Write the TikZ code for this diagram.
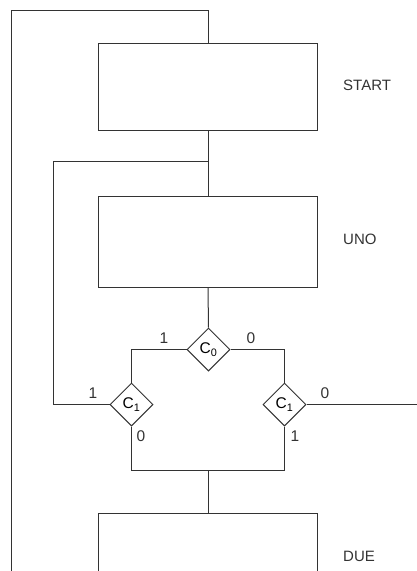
\documentclass[tikz,border=0pt]{standalone}
\usepackage{fontspec}
\setmainfont{Liberation Sans}
\usetikzlibrary{shapes.geometric}
\begin{document}
\begin{tikzpicture}[x=1pt,y=-1pt,
  ln/.style={draw=black!80,line width=1pt},
  blk/.style={ln,fill=white,minimum width=219pt,minimum height=87pt,inner sep=0pt,anchor=north west},
  dec/.style={ln,diamond,minimum width=43pt,minimum height=43pt,inner sep=0pt,fill=white,font=\fontsize{15.5}{17}\selectfont},
  lab/.style={font=\fontsize{15.5}{17}\selectfont,text=black!80,inner sep=0pt},
  nm/.style={font=\fontsize{15}{17}\selectfont,text=black!80,anchor=west,inner sep=0pt}]
\useasboundingbox (0,0) rectangle (417,571);
% blocks
\node[blk] (start) at (98,43) {};
\node[blk,minimum height=91pt] (uno) at (98,196) {};
\node[blk,minimum height=70pt] (due) at (98,513) {};
\node[nm] (tstart) at (343,85) {START};
\node[nm] (tuno) at (343,239) {UNO};
\node[nm] (tdue) at (343,556) {DUE};
% decisions
\node[dec] (c0) at (208.5,349.5) {C\textsubscript{0}};
\node[dec] (c1l) at (131.5,404.5) {C\textsubscript{1}};
\node[dec] (c1r) at (284.5,404.5) {C\textsubscript{1}};
% coordinates
\coordinate (otop) at (11,10);
\coordinate (obot) at (11,571);
\coordinate (ttop) at (208,10);
\coordinate (br) at (208,161);
\coordinate (bl) at (53,161);
\coordinate (blb) at (53,404.5);
\coordinate (rend) at (417,404.5);
\coordinate (jl) at (131.5,470);
\coordinate (jr) at (284.5,470);
\coordinate (jm) at (208,470);
% connectors
\draw[ln] (obot) -- (otop) -- (ttop) -- (ttop |- start.north);
\draw[ln] (start.south) -- (uno.north);
\draw[ln] (br) -- (bl) -- (blb) -- (c1l.west);
\draw[ln] (uno.south) -- (c0.north);
\draw[ln] (c0.west) -| (c1l.north);
\draw[ln] (c0.east) -| (c1r.north);
\draw[ln] (c1r.east) -- (rend);
\draw[ln] (c1l.south) -- (jl) -- (jr) -- (c1r.south);
\draw[ln] (jm) -- (due.north -| jm);
% labels
\node[lab] (l1) at (164,338) {1};
\node[lab] (l2) at (251,338) {0};
\node[lab] (l3) at (93,393) {1};
\node[lab] (l4) at (141,436) {0};
\node[lab] (l5) at (325,393) {0};
\node[lab] (l6) at (295,436) {1};
\end{tikzpicture}
\end{document}
